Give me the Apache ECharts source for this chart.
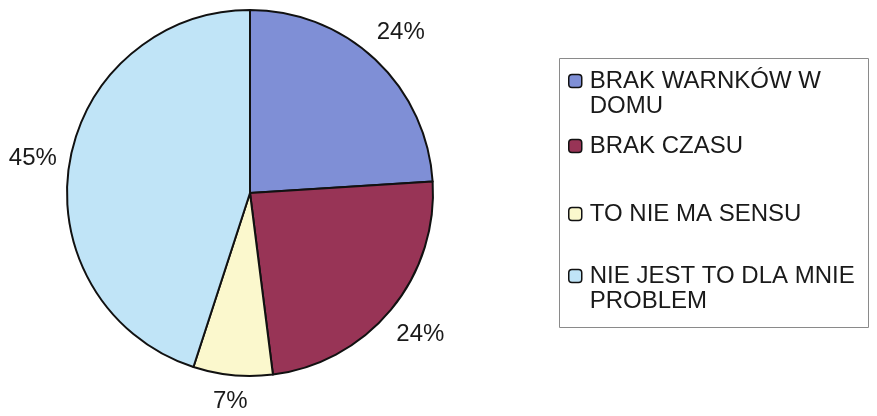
<!DOCTYPE html>
<html><head><meta charset="utf-8">
<script src="https://cdn.jsdelivr.net/npm/echarts@6/dist/echarts.min.js"></script>
<style>html,body{margin:0;padding:0;background:#fff}#c{width:877px;height:416px}</style>
</head><body><div id="c"></div>
<script>
const categories = ['BRAK WARNKÓW W DOMU', 'BRAK CZASU', 'TO NIE MA SENSU', 'NIE JEST TO DLA MNIE PROBLEM'];
const legendLines = [['BRAK WARNKÓW W', 'DOMU'], ['BRAK CZASU'], ['TO NIE MA SENSU'], ['NIE JEST TO DLA MNIE', 'PROBLEM']];
const values = [24, 24, 7, 45];
const colors = ['#7f8fd6', '#983456', '#fbf8cd', '#c0e4f7'];

const CX = 250, CY = 193, R = 183, GAP = 194;
const FONT = '"Liberation Sans", Arial, sans-serif';
const legendCenters = [81, 146, 214, 276];
const LH = 25;

const chart = echarts.init(document.getElementById('c'), null, {renderer: 'canvas'});

const legends = categories.map((name, i) => {
  const lines = legendLines[i];
  const multi = lines.length > 1;
  // for two-line items, add a blank line above so the first line sits level with the icon
  const text = multi ? '\n' + lines.join('\n') : lines[0];
  const firstCenter = multi ? LH * 1.5 : LH / 2;
  return {
    data: [{name: name, itemStyle: {color: colors[i], borderColor: '#111', borderWidth: 1.5}}],
    left: 568,
    top: legendCenters[i] - firstCenter,
    padding: 0,
    itemWidth: 13,
    itemHeight: 13,
    selectedMode: false,
    formatter: () => text,
    textStyle: {
      fontFamily: FONT, fontSize: 24, color: '#1a1a1a', lineHeight: LH,
      padding: [0, 0, 0, 3]
    }
  };
});

chart.setOption({
  animation: false,
  graphic: [{
    type: 'rect', left: 557, top: 56, silent: true,
    shape: {width: 309, height: 269},
    style: {fill: 'none', stroke: '#8a8a8a', lineWidth: 1}
  }],
  legend: legends,
  series: [{
    type: 'pie',
    center: [CX, CY],
    radius: R,
    startAngle: 90,
    clockwise: true,
    silent: true,
    avoidLabelOverlap: false,
    itemStyle: {borderColor: '#111', borderWidth: 2},
    label: {
      show: true, position: 'inside', rotate: 0,
      formatter: '{c}%',
      fontFamily: FONT, fontSize: 24, color: '#1a1a1a'
    },
    labelLine: {show: false},
    labelLayout: function (p) {
      const r = p.labelRect;
      const lx = r.x + r.width / 2, ly = r.y + r.height / 2;
      let dx = lx - CX, dy = ly - CY;
      const d = Math.sqrt(dx * dx + dy * dy) || 1;
      dx /= d; dy /= d;
      const dist = GAP + (r.width / 2) * Math.abs(dx) + 13.5 * Math.abs(dy);
      return {x: CX + dx * dist, y: CY + dy * dist, align: 'center', verticalAlign: 'middle'};
    },
    data: categories.map((n, i) => ({name: n, value: values[i], itemStyle: {color: colors[i]}}))
  }]
});
</script></body></html>
